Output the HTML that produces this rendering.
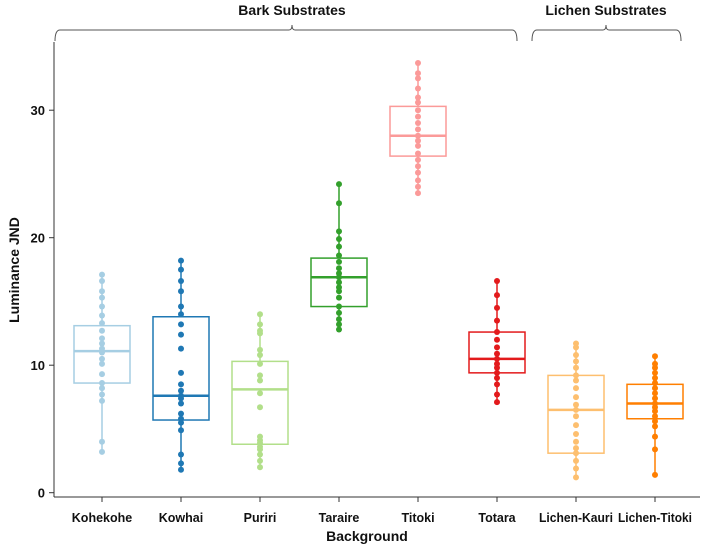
<!DOCTYPE html>
<html><head><meta charset="utf-8"><style>
body{margin:0;background:#fff;}
svg text{font-family:"Liberation Sans",Arial,sans-serif;font-weight:bold;fill:#111;}
</style></head><body>
<svg id="chart" width="709" height="550" viewBox="0 0 709 550" xmlns="http://www.w3.org/2000/svg">
<g id="brackets">
<path d="M55,41 Q55,30 60,30 L289,30 Q292,30 292,25 Q292,30 295,30 L512,30 Q517,30 517,41" fill="none" stroke="#555" stroke-width="1"/>
<text x="292" y="15" text-anchor="middle" font-size="14">Bark Substrates</text>
<path d="M532,41 Q532,30 537,30 L603,30 Q606,30 606,25 Q606,30 609,30 L676,30 Q681,30 681,41" fill="none" stroke="#555" stroke-width="1"/>
<text x="606" y="15" text-anchor="middle" font-size="14">Lichen Substrates</text>
</g>
<line x1="54" y1="42" x2="54" y2="497" stroke="#333" stroke-width="1"/>
<line x1="54" y1="497" x2="700" y2="497" stroke="#333" stroke-width="1"/>
<g id="axes"></g>
<g id="marks"></g>
<text transform="translate(19,270) rotate(-90)" text-anchor="middle" font-size="14">Luminance JND</text>
<text x="367" y="541" text-anchor="middle" font-size="14">Background</text>
</svg>
<script>
const categories=["Kohekohe","Kowhai","Puriri","Taraire","Titoki","Totara","Lichen-Kauri","Lichen-Titoki"];
const colors=["#a6cee3","#1f78b4","#b2df8a","#33a02c","#fb9a99","#e31a1c","#fdbf6f","#ff7f00"];
const q1=[8.6,5.7,3.8,14.6,26.4,9.4,3.1,5.8];
const medians=[11.1,7.6,8.1,16.9,28.0,10.5,6.5,7.0];
const q3=[13.1,13.8,10.3,18.4,30.3,12.6,9.2,8.5];
const points=[
[17.1,16.6,15.8,15.3,14.6,13.9,13.3,12.7,12.1,11.7,11.3,11,10.5,10.1,9.3,8.6,8.2,7.7,7.2,4,3.2],
[18.2,17.5,16.6,15.8,14.6,14,13.2,12.4,11.3,9.4,8.5,8,7.6,7.4,7.0,6.2,5.8,5.5,4.9,3,2.3,1.8],
[14.0,13.2,12.7,12.5,11.2,10.8,10.1,9.2,8.8,7.8,6.7,4.4,4.1,3.9,3.6,3.4,3.0,2.5,2.0],
[24.2,22.7,20.5,19.9,19.3,18.6,18.1,17.6,17.2,16.9,16.5,16.1,15.8,15.3,14.6,14.1,13.6,13.2,12.8],
[33.7,32.9,32.5,31.7,31.0,30.6,30.0,29.5,29.0,28.5,28.0,27.6,27.2,26.6,26.1,25.6,25.1,24.5,24.0,23.5],
[16.6,15.5,14.5,13.5,12.6,12.0,11.4,10.9,10.5,10.1,9.8,9.4,9.0,8.5,7.7,7.1],
[11.7,11.4,10.8,10.3,9.8,9.2,8.8,8.2,7.5,6.9,6.5,6.0,5.3,4.6,4.0,3.5,3.1,2.5,1.9,1.2],
[10.7,10.1,9.8,9.4,9.0,8.6,8.2,7.8,7.4,7.0,6.7,6.4,6.0,5.6,5.2,4.4,3.4,1.4]
];
const yTicks=[0,10,20,30];
const NS="http://www.w3.org/2000/svg";
const y=v=>492.7-v*12.75;
const x=i=>102+i*79;
function mk(tag,attrs,parent){const e=document.createElementNS(NS,tag);for(const k in attrs)e.setAttribute(k,attrs[k]);parent.appendChild(e);return e;}
const axes=document.getElementById("axes"),marks=document.getElementById("marks");
yTicks.forEach(t=>{
 const l=mk("line",{x1:49,x2:54,y1:y(t),y2:y(t),stroke:"#333"},axes);
 
 
 const tx=mk("text",{x:45,y:y(t)+5,"text-anchor":"end","font-size":"13"},axes);
 tx.textContent=t;
 
 
});
categories.forEach((c,i)=>{
 const l=mk("line",{x1:x(i),x2:x(i),y1:497,y2:502,stroke:"#333"},axes);
 
 
 const tx=mk("text",{x:x(i),y:522,"text-anchor":"middle","font-size":"12.5"},axes);
 tx.textContent=c;
 if(c.length>10){tx.setAttribute("textLength","74");tx.setAttribute("lengthAdjust","spacingAndGlyphs");}
 
 
 const g=mk("g",{},marks);
 
 
 const p=points[i],mx=Math.max(...p),mn=Math.min(...p),col=colors[i];
 mk("line",{x1:x(i),x2:x(i),y1:y(mx),y2:y(mn),stroke:col,"stroke-width":1.5},g);
 const r=mk("rect",{x:x(i)-28,y:y(q3[i]),width:56,height:y(q1[i])-y(q3[i]),fill:"#fff",stroke:col,"stroke-width":1.5},g);
 
 
 const m=mk("line",{x1:x(i)-28,x2:x(i)+28,y1:y(medians[i]),y2:y(medians[i]),stroke:col,"stroke-width":2.5},g);
 
 
 p.forEach(v=>{
  const d=mk("circle",{cx:x(i),cy:y(v),r:3,fill:col},g);
  
  
 });
});
</script>
</body></html>
